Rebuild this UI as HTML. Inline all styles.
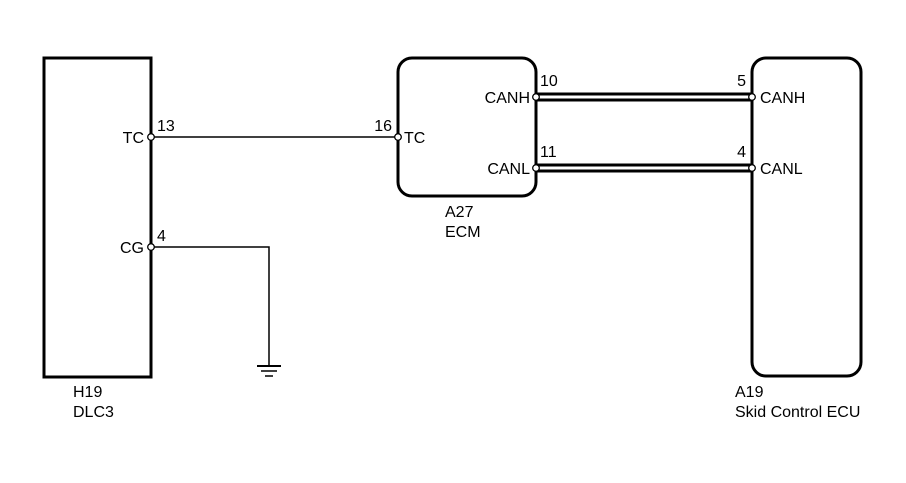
<!DOCTYPE html>
<html><head><meta charset="utf-8"><style>
html,body{margin:0;padding:0;background:#fff;}
svg{display:block;}
text{font-family:"Liberation Sans",Arial,sans-serif;font-size:16px;fill:#000;}
</style></head><body>
<svg width="906" height="483" viewBox="0 0 906 483" xmlns="http://www.w3.org/2000/svg">
<rect x="44" y="58" width="107" height="319" fill="none" stroke="#000" stroke-width="3"/>
<rect x="398" y="58" width="138" height="138" rx="14" fill="none" stroke="#000" stroke-width="3"/>
<rect x="752" y="58" width="109" height="318" rx="14" fill="none" stroke="#000" stroke-width="3"/>
<line x1="151" y1="137" x2="398" y2="137" stroke="#000" stroke-width="1.5"/>
<polyline points="151,247 269,247 269,366" fill="none" stroke="#000" stroke-width="1.5"/>
<line x1="257" y1="366" x2="281" y2="366" stroke="#000" stroke-width="2"/>
<line x1="261" y1="371" x2="277" y2="371" stroke="#000" stroke-width="1.5"/>
<line x1="265" y1="376" x2="273" y2="376" stroke="#000" stroke-width="1.5"/>
<line x1="536" y1="97" x2="752" y2="97" stroke="#000" stroke-width="9"/>
<line x1="536" y1="97" x2="752" y2="97" stroke="#fff" stroke-width="3"/>
<line x1="536" y1="168" x2="752" y2="168" stroke="#000" stroke-width="9"/>
<line x1="536" y1="168" x2="752" y2="168" stroke="#fff" stroke-width="3"/>
<g fill="#fff" stroke="#000" stroke-width="1.3">
<circle cx="151" cy="137" r="3.3"/>
<circle cx="151" cy="247" r="3.3"/>
<circle cx="398" cy="137" r="3.3"/>
<circle cx="536" cy="97" r="3.3"/>
<circle cx="536" cy="168" r="3.3"/>
<circle cx="752" cy="97" r="3.3"/>
<circle cx="752" cy="168" r="3.3"/>
</g>
<text x="144" y="143" text-anchor="end">TC</text>
<text x="157" y="131">13</text>
<text x="144" y="253" text-anchor="end">CG</text>
<text x="157" y="241">4</text>
<text x="392" y="131" text-anchor="end">16</text>
<text x="404" y="143">TC</text>
<text x="530" y="103" text-anchor="end">CANH</text>
<text x="540" y="86">10</text>
<text x="530" y="174" text-anchor="end">CANL</text>
<text x="540" y="157">11</text>
<text x="746" y="86" text-anchor="end">5</text>
<text x="760" y="103">CANH</text>
<text x="746" y="157" text-anchor="end">4</text>
<text x="760" y="174">CANL</text>
<text x="73" y="397">H19</text>
<text x="73" y="417">DLC3</text>
<text x="445" y="217">A27</text>
<text x="445" y="237">ECM</text>
<text x="735" y="397">A19</text>
<text x="735" y="417">Skid Control ECU</text>
</svg>
</body></html>
